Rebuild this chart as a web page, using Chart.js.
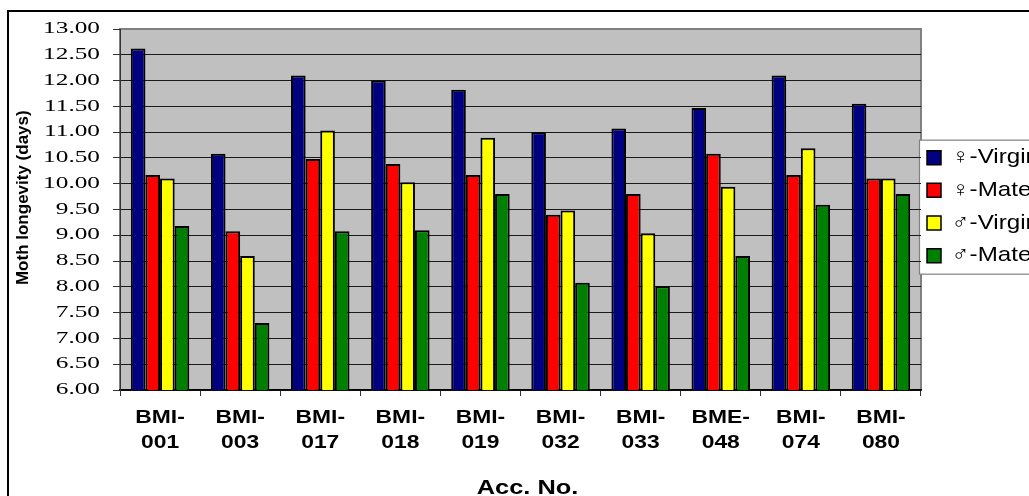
<!DOCTYPE html>
<html>
<head>
<meta charset="utf-8">
<script src="https://cdn.jsdelivr.net/npm/chart.js@4.4.1/dist/chart.umd.min.js"></script>
<style>
  html, body { margin: 0; padding: 0; background: #fff; overflow: hidden; width: 1029px; height: 496px; }
  #frame { position: absolute; left: 7px; top: 10px; border: 2px solid #000; background: #fff; }
  #chart { display: block; }
</style>
</head>
<body>
<div id="frame"><canvas id="chart" width="1032" height="500"></canvas></div>
<script>
// Accessions on the x axis
const categories = ['BMI-001', 'BMI-003', 'BMI-017', 'BMI-018', 'BMI-019',
                    'BMI-032', 'BMI-033', 'BME-048', 'BMI-074', 'BMI-080'];

// Series names
const seriesNames = ['\u2640-Virgin', '\u2640-Mated', '\u2642-Virgin', '\u2642-Mated'];

// Moth longevity (days)
const femaleVirgin = [12.62, 10.58, 12.10, 12.00, 11.82, 11.00, 11.07, 11.47, 12.10, 11.55];
const femaleMated  = [10.17,  9.08, 10.48, 10.38, 10.17,  9.40,  9.80, 10.58, 10.17, 10.10];
const maleVirgin   = [10.10,  8.60, 11.03, 10.03, 10.89,  9.48,  9.04,  9.94, 10.69, 10.10];
const maleMated    = [ 9.18,  7.30,  9.08,  9.10,  9.80,  8.08,  8.01,  8.60,  9.59,  9.80];

// Value axis range
const yMin = 6;
const yMax = 13;
const yStep = 0.5;

const seriesColors = ['#000080', '#FF0000', '#FFFF00', '#008000'];
const seriesValues = [femaleVirgin, femaleMated, maleVirgin, maleMated];

// Horizontal text widening (old spreadsheet-style stretched lettering)
function stretchFor(font) {
  if (font.indexOf('Liberation Serif') !== -1) return 1.58;
  if (font.indexOf('Liberation Sans') !== -1) return /\b21px/.test(font) ? 1.15 : 1.27;
  return 1;
}
const textStretch = {
  id: 'textStretch',
  beforeInit(chart) {
    const ctx = chart.ctx;
    const fill = ctx.fillText;
    const measure = ctx.measureText;
    ctx.fillText = function (text, x, y, maxWidth) {
      const m = this.getTransform();
      const s = (Math.abs(m.b) < 1e-9 && Math.abs(m.c) < 1e-9) ? stretchFor(this.font) : 1;
      if (s === 1) {
        return maxWidth === undefined ? fill.call(this, text, x, y) : fill.call(this, text, x, y, maxWidth);
      }
      this.save();
      this.translate(x, y);
      this.scale(s, 1);
      fill.call(this, text, 0, 0);
      this.restore();
    };
    ctx.measureText = function (text) {
      const r = measure.call(this, text);
      const s = stretchFor(this.font);
      if (s === 1) return r;
      return {
        width: r.width * s,
        actualBoundingBoxAscent: r.actualBoundingBoxAscent,
        actualBoundingBoxDescent: r.actualBoundingBoxDescent,
        actualBoundingBoxLeft: r.actualBoundingBoxLeft * s,
        actualBoundingBoxRight: r.actualBoundingBoxRight * s,
        fontBoundingBoxAscent: r.fontBoundingBoxAscent,
        fontBoundingBoxDescent: r.fontBoundingBoxDescent
      };
    };
  }
};

// Grey plot background with its frame, and the boxed legend panel
const plotPanel = {
  id: 'plotPanel',
  beforeDraw(chart) {
    const {ctx, chartArea: a, legend} = chart;
    ctx.save();
    ctx.fillStyle = '#C0C0C0';
    ctx.fillRect(a.left, a.top, a.right - a.left, a.bottom - a.top);
    ctx.strokeStyle = '#808080';
    ctx.lineWidth = 2;
    ctx.strokeRect(a.left, a.top, a.right - a.left, a.bottom - a.top);
    if (legend && legend.legendHitBoxes && legend.legendHitBoxes.length) {
      const hb = legend.legendHitBoxes;
      const top = hb[0].top - 7;
      const bottom = hb[hb.length - 1].top + 29;
      const left = legend.left - 1.5;
      ctx.fillStyle = '#fff';
      ctx.fillRect(left, top, legend.right - left + 10, bottom - top);
      ctx.strokeStyle = '#808080';
      ctx.lineWidth = 1.2;
      ctx.strokeRect(left, top, legend.right - left + 10, bottom - top);
    }
    ctx.restore();
  }
};

const datasets = seriesNames.map((name, i) => ({
  label: name,
  data: seriesValues[i],
  backgroundColor: seriesColors[i],
  borderColor: '#000',
  borderWidth: 2,
  borderSkipped: 'start',
  categoryPercentage: 0.73,
  barPercentage: 1.0
}));

new Chart(document.getElementById('chart'), {
  type: 'bar',
  data: { labels: categories, datasets },
  plugins: [textStretch, plotPanel],
  options: {
    responsive: false,
    devicePixelRatio: 1,
    animation: false,
    layout: { padding: { left: 0, top: 17, right: 0, bottom: 12 } },
    plugins: {
      tooltip: { enabled: false },
      legend: {
        position: 'right',
        align: 'center',
        fullSize: false,
        maxWidth: 120,
        labels: {
          font: { family: 'Liberation Sans', size: 21, lineHeight: 1.27 },
          color: '#000',
          boxWidth: 14,
          boxHeight: 14,
          padding: 6,
          generateLabels(chart) {
            const items = Chart.defaults.plugins.legend.labels.generateLabels(chart);
            items.forEach(it => { it.text = [it.text]; it.lineWidth = 1.5; it.strokeStyle = '#000'; });
            return items;
          }
        }
      }
    },
    scales: {
      x: {
        grid: {
          display: true,
          drawOnChartArea: false,
          drawTicks: true,
          tickLength: 6,
          tickColor: '#333',
          offset: true
        },
        border: { display: true, color: '#000', width: 1.5 },
        ticks: {
          color: '#000',
          padding: 9,
          maxRotation: 0,
          autoSkip: false,
          font: { family: 'Liberation Sans', size: 18, weight: 'bold', lineHeight: 1.42 },
          callback(value, index) {
            const s = categories[index];
            const k = s.indexOf('-') + 1;
            return [s.slice(0, k), s.slice(k)];
          }
        },
        title: {
          display: true,
          text: '  Acc. No.',
          color: '#000',
          font: { family: 'Liberation Sans', size: 20, weight: 'bold', lineHeight: 1.2 },
          padding: { top: 0, bottom: 0 }
        },
        afterFit(scale) { scale.height = 110; }
      },
      y: {
        min: yMin,
        max: yMax,
        grid: {
          color: ctx => (ctx.tick && ctx.tick.value === yMax) ? '#808080' : '#1a1a1a',
          lineWidth: 1,
          drawTicks: true,
          tickLength: 7,
          tickColor: '#333'
        },
        border: { display: true, color: '#333', width: 1 },
        ticks: {
          stepSize: yStep,
          color: '#000',
          padding: 13,
          font: { family: 'Liberation Serif', size: 16, lineHeight: 0.5 },
          callback: v => Number(v).toFixed(2)
        },
        title: {
          display: true,
          text: '     Moth longevity (days)',
          color: '#000',
          font: { family: 'Liberation Sans', size: 17, weight: 'bold', lineHeight: 1.2 },
          padding: { top: 4, bottom: 0 }
        },
        afterFit(scale) { scale.width = 111; }
      }
    }
  }
});
</script>
</body>
</html>
